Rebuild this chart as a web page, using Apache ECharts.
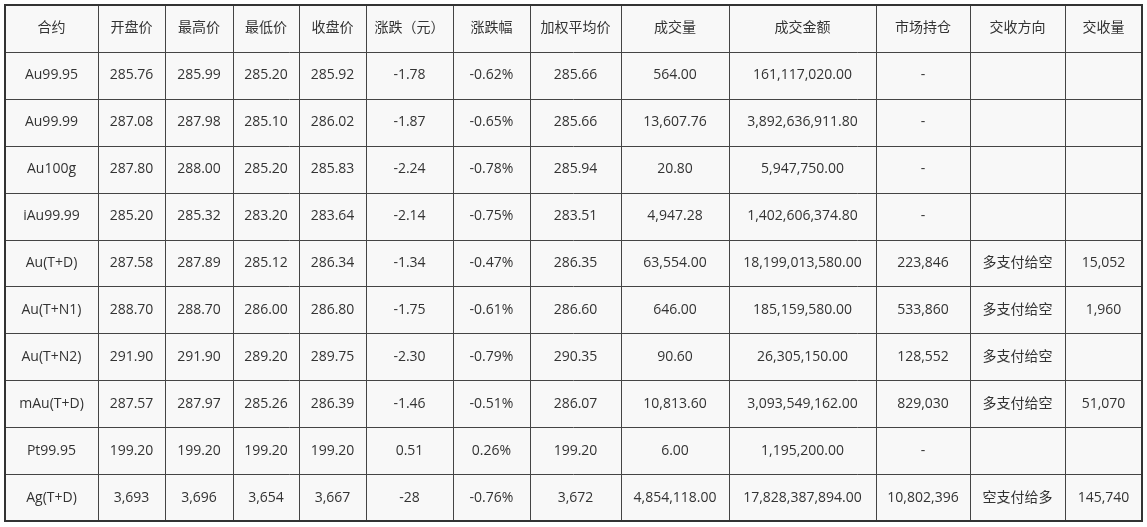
<!DOCTYPE html>
<html>
<head>
<meta charset="utf-8">
<script src="https://cdn.jsdelivr.net/npm/echarts@6/dist/echarts.min.js"></script>
<style>
  html, body { margin: 0; padding: 0; background: #fff; }
  #main { width: 1147px; height: 527px; }
</style>
</head>
<body>
<div id="main"></div>
<script>
// 表头
const headers = ['合约', '开盘价', '最高价', '最低价', '收盘价', '涨跌（元）', '涨跌幅', '加权平均价', '成交量', '成交金额', '市场持仓', '交收方向', '交收量']
const contracts = ['Au99.95', 'Au99.99', 'Au100g', 'iAu99.99', 'Au(T+D)', 'Au(T+N1)', 'Au(T+N2)', 'mAu(T+D)', 'Pt99.95', 'Ag(T+D)']
const openPrice = ['285.76', '287.08', '287.80', '285.20', '287.58', '288.70', '291.90', '287.57', '199.20', '3,693']
const highPrice = ['285.99', '287.98', '288.00', '285.32', '287.89', '288.70', '291.90', '287.97', '199.20', '3,696']
const lowPrice = ['285.20', '285.10', '285.20', '283.20', '285.12', '286.00', '289.20', '285.26', '199.20', '3,654']
const closePrice = ['285.92', '286.02', '285.83', '283.64', '286.34', '286.80', '289.75', '286.39', '199.20', '3,667']
const change = ['-1.78', '-1.87', '-2.24', '-2.14', '-1.34', '-1.75', '-2.30', '-1.46', '0.51', '-28']
const changePct = ['-0.62%', '-0.65%', '-0.78%', '-0.75%', '-0.47%', '-0.61%', '-0.79%', '-0.51%', '0.26%', '-0.76%']
const avgPrice = ['285.66', '285.66', '285.94', '283.51', '286.35', '286.60', '290.35', '286.07', '199.20', '3,672']
const volume = ['564.00', '13,607.76', '20.80', '4,947.28', '63,554.00', '646.00', '90.60', '10,813.60', '6.00', '4,854,118.00']
const turnover = ['161,117,020.00', '3,892,636,911.80', '5,947,750.00', '1,402,606,374.80', '18,199,013,580.00', '185,159,580.00', '26,305,150.00', '3,093,549,162.00', '1,195,200.00', '17,828,387,894.00']
const openInterest = ['-', '-', '-', '-', '223,846', '533,860', '128,552', '829,030', '-', '10,802,396']
const deliveryDir = ['', '', '', '', '多支付给空', '多支付给空', '多支付给空', '多支付给空', '', '空支付给多']
const deliveryVol = ['', '', '', '', '15,052', '1,960', '', '51,070', '', '145,740']

const columns = [contracts, openPrice, highPrice, lowPrice, closePrice, change, changePct, avgPrice, volume, turnover, openInterest, deliveryDir, deliveryVol]
const colEdges = [5, 98, 165, 233, 299, 366, 453, 530, 621, 729, 876, 970, 1065, 1142]
const tableTop = 5, tableBottom = 521
const rowCount = contracts.length + 1
const rowH = (tableBottom - tableTop) / rowCount
const tableW = colEdges[colEdges.length - 1] - colEdges[0]

const elements = []
elements.push({ type: 'rect', shape: { x: colEdges[0], y: tableTop, width: tableW, height: tableBottom - tableTop },
  style: { fill: '#f8f8f8' }, silent: true })

function cellText(text, c, r) {
  elements.push({
    type: 'text',
    x: (colEdges[c] + colEdges[c + 1]) / 2,
    y: tableTop + rowH * (r + 0.5),
    style: { text: text, fill: '#333', font: '14px "Open Sans", "Noto Sans CJK SC", sans-serif', align: 'center', verticalAlign: 'middle' },
    silent: true
  })
}
headers.forEach((h, c) => cellText(h, c, 0))
columns.forEach((col, c) => col.forEach((v, i) => cellText(v, c, i + 1)))

for (let r = 1; r < rowCount; r++) {
  const y = Math.round(tableTop + rowH * r) + 0.5
  elements.push({ type: 'line', shape: { x1: colEdges[0], y1: y, x2: colEdges[13], y2: y }, style: { stroke: '#444', lineWidth: 1 }, silent: true })
}
for (let c = 1; c < colEdges.length - 1; c++) {
  const x = colEdges[c] + 0.5
  elements.push({ type: 'line', shape: { x1: x, y1: tableTop, x2: x, y2: tableBottom }, style: { stroke: '#444', lineWidth: 1 }, silent: true })
}
elements.push({ type: 'rect', shape: { x: colEdges[0], y: tableTop, width: tableW, height: tableBottom - tableTop },
  style: { fill: 'transparent', stroke: '#333', lineWidth: 2 }, silent: true })

const chart = echarts.init(document.getElementById('main'))
chart.setOption({ animation: false, graphic: { elements: elements } })
</script>
</body>
</html>
